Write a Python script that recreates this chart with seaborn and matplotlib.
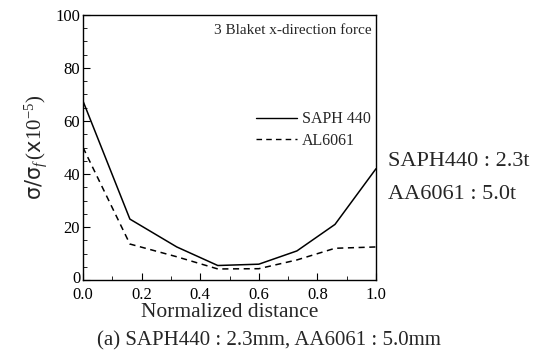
import numpy as np
import matplotlib
matplotlib.use("Agg")
import matplotlib.pyplot as plt
import matplotlib.transforms as mtransforms
import seaborn as sns
from matplotlib.ticker import MultipleLocator, FormatStrFormatter

# === Données ===
distance = [0.0, 0.16, 0.32, 0.46, 0.60, 0.73, 0.86, 1.0]
saph440 = [67.5, 23.0, 12.5, 5.5, 6.0, 11.0, 21.0, 42.0]
al6061 = [50.0, 13.6, 8.8, 4.2, 4.3, 7.6, 12.0, 12.5]

sns.set_style("ticks")
plt.rcParams["font.family"] = ["Liberation Serif", "DejaVu Serif"]
plt.rcParams["mathtext.fontset"] = "custom"
plt.rcParams["mathtext.rm"] = "Liberation Serif"
plt.rcParams["mathtext.it"] = "Liberation Serif:italic"

fig = plt.figure(figsize=(5.37, 3.55), dpi=100)
ax = fig.add_axes([0.1546, 0.211, 0.5456, 0.747])

sns.lineplot(x=distance, y=saph440, ax=ax, color="black", linewidth=1.1, label="SAPH 440")
sns.lineplot(x=distance, y=al6061, ax=ax, color="black", linewidth=1.1, linestyle="--",
             label="AL6061")
ax.lines[1].set_dashes([4, 3])

ax.set_xlim(0, 1)
ax.set_ylim(0, 100)
ax.xaxis.set_major_locator(MultipleLocator(0.2))
ax.xaxis.set_minor_locator(MultipleLocator(0.1))
ax.xaxis.set_major_formatter(FormatStrFormatter("%.1f"))
ax.yaxis.set_major_locator(MultipleLocator(20))
ax.yaxis.set_minor_locator(MultipleLocator(5))
ax.tick_params(which="both", direction="in", labelsize=12, colors="black")
ax.tick_params(axis="y", pad=2)
ax.tick_params(axis="x", pad=5)
ax.tick_params(which="major", length=5)
ax.tick_params(which="minor", length=3)
for s in ax.spines.values():
    s.set_linewidth(1.0)
    s.set_color("black")

# petit décalage du "0" de l'axe y pour qu'il ne touche pas le "0.0"
fig.canvas.draw()
lab0 = ax.get_yticklabels()[0]
for lab in ax.get_yticklabels():
    if lab.get_text() == "0":
        lab0 = lab
lab0.set_transform(lab0.get_transform() + mtransforms.ScaledTranslation(0, 2 / 72, fig.dpi_scale_trans))

ax.set_xlabel("Normalized distance", fontsize=15.5, labelpad=0)
ax.set_ylabel(r"$\mathsf{\sigma/\sigma_{\mathit{f}}}\,(\mathsf{x}10^{-5})$", fontsize=15, labelpad=4)

leg = ax.legend(loc="upper left", bbox_to_anchor=(0.54, 0.69), frameon=False, fontsize=11.5,
                handlelength=2.6, handletextpad=0.3, labelspacing=0.35)
for h in leg.get_lines():
    h.set_linewidth(1.0)

ax.text(0.985, 0.965, "3 Blaket x-direction force", transform=ax.transAxes,
        ha="right", va="top", fontsize=11)

fig.text(0.722, 0.545, "SAPH440 : 2.3t", fontsize=16, va="center")
fig.text(0.722, 0.452, "AA6061 : 5.0t", fontsize=16, va="center")
fig.text(0.50, 0.04, "(a) SAPH440 : 2.3mm, AA6061 : 5.0mm", fontsize=15, ha="center", va="center")

fig.savefig("out.png", dpi=100)
